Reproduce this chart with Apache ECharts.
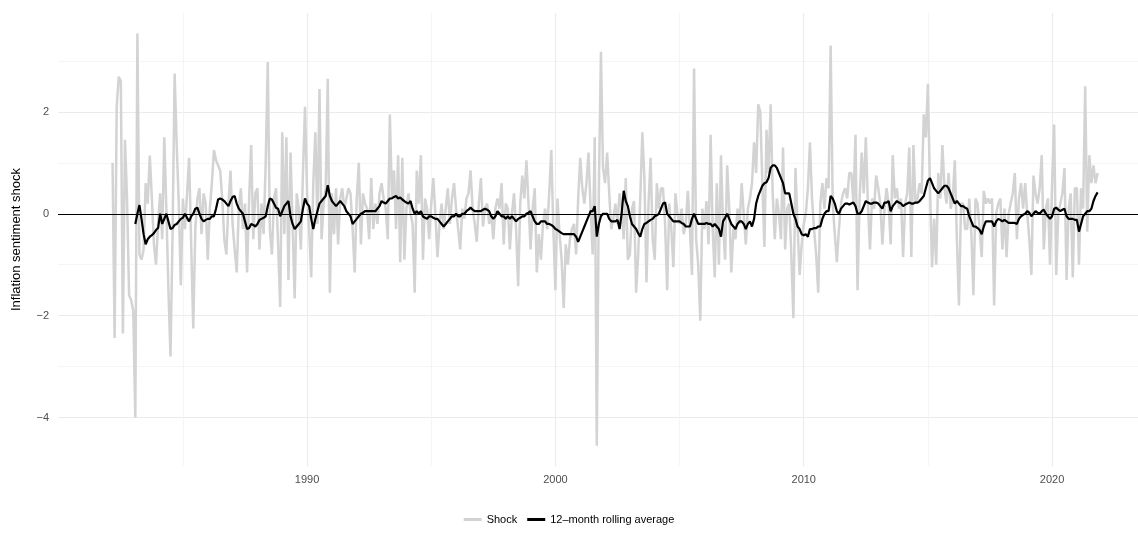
<!DOCTYPE html>
<html>
<head>
<meta charset="utf-8">
<script src="https://cdn.jsdelivr.net/npm/echarts@6/dist/echarts.min.js"></script>
<style>html,body{margin:0;padding:0;background:#fff}#chart{width:1138px;height:556px}</style>
</head>
<body>
<div id="chart"></div>
<script>
// monthly series, first month March 1982
var startYear = 1982 + 2 / 12
var majorYears = [1990, 2000, 2010, 2020]
var minorYears = [1985, 1995, 2005, 2015]
var majorY = [-4, -2, 0, 2]
var minorY = [-3, -1, 1, 3]

var shock = [
  1.0, -2.44, 2.1, 2.69, 2.6, -2.35, 1.45, 0.3, -1.6, -1.7, -1.9, -4.0, 3.54, -0.8, -0.9, -0.7, 0.6, 0.2, 1.14, 0.3,
  -0.6, -1.0, -0.2, 0.4, -0.5, 1.5, 0.1, -1.5, -2.8, -0.4, 2.75, 1.35, 0.2, -1.4, 0.3, -0.3, 0.4, 1.1, -0.6, -2.25,
  -0.3, 0.3, 0.5, -0.4, 0.4, 0.2, -0.9, 0.1, 0.6, 1.25, 1.05, 0.95, 0.85, 0.3, -0.5, -0.8, 0.2, 0.85, -0.2, -0.7,
  -1.15, 0.1, 0.5, -0.3, 0.2, -1.15, 0.3, 1.35, -0.5, 0.4, 0.5, -0.7, 0.2, -0.4, 1.0, 2.98, -0.3, -0.8, 0.3, 0.5,
  -0.6, -1.83, 1.6, -0.4, 1.5, -1.3, 1.2, -0.2, -1.66, 0.4, 0.1, -0.7, 0.8, 2.1, 0.4, -0.3, -1.25, 0.6, 1.6, -0.2,
  2.45, -0.5, 0.2, 0.5, 2.65, -1.55, 0.4, -0.4, 0.5, -0.6, 0.3, 0.5, 0.1, 0.3, 0.5, 0.4, -0.3, -1.15, 0.3, 1.0,
  -0.6, 0.4, 0.2, 0.1, -0.5, 0.7, -0.3, 0.2, -0.2, 0.4, 0.6, 0.3, 0.1, -0.5, 1.95, 0.3, 0.85, -0.3, 1.15, -0.95,
  1.1, -0.9, 0.1, 0.4, 0.0, -0.2, -1.55, 0.85, 0.2, 1.15, -0.9, 0.3, 0.1, -0.5, 0.2, 0.7, 0.0, -0.85, -0.2, 0.2,
  -0.3, 0.1, 0.5, -0.2, 0.3, 0.6, 0.1, -0.3, -0.7, 0.1, -0.1, 0.3, 0.4, 0.85, 0.1, -0.2, -0.55, 0.2, 0.7, -0.25,
  0.1, 0.2, -0.2, 0.0, -0.5, 0.1, 0.3, 0.1, 0.6, -0.6, 0.2, 0.1, -0.7, 0.0, 0.4, -0.3, -1.42, 0.2, 0.75, 0.3,
  1.05, 0.2, -0.7, 0.1, 0.5, -1.15, -0.4, -0.9, -0.2, 0.1, -0.3, 0.4, 1.25, -0.3, -1.5, 0.3, -0.4, -0.9, -1.85, -0.6,
  -1.0, -0.5, -0.3, -0.2, -0.8, 0.3, 1.1, 0.5, 0.2, 0.6, 1.2, 0.1, -0.8, 1.5, -4.55, 0.5, 3.18, 0.9, 0.6, 1.2,
  0.4, -0.3, -0.1, 0.2, -0.2, 0.4, 0.1, -0.5, 0.7, -0.9, -0.8, 0.1, 0.25, -1.55, -0.8, 0.3, 1.6, 0.7, -1.35, 0.2,
  1.1, -0.5, -0.9, 0.6, 0.1, 0.5, 0.5, -0.2, -1.5, 0.2, -0.3, -1.05, 0.4, 0.0, -0.2, 0.1, -0.4, -0.2, 0.45, -0.3,
  -1.2, 2.85, -0.5, -1.0, -2.1, 0.1, -0.3, 0.25, -0.6, 1.55, -0.3, -1.25, 0.6, -1.0, 1.15, -0.2, -0.9, 0.95, 0.1, -1.15,
  -0.3, -0.5, 0.1, -0.2, 0.6, 0.0, -0.6, 0.1, 0.3, 0.6, 1.4, 0.8, 2.15, 2.0, 0.6, -0.65, 1.65, 0.8, 2.15, 0.4,
  -0.5, 0.3, 0.0, -0.5, 1.3, -0.7, 0.1, 0.2, -0.8, -2.05, 0.9, -0.2, -1.2, -0.6, -0.2, 0.0, 0.5, 1.4, 0.3, -0.3,
  -0.8, -1.55, 0.2, 0.6, 0.1, 0.7, 0.5, 3.3, 0.2, -0.4, -0.95, -0.3, 0.2, 0.4, 0.5, 0.3, 0.8, 0.8, 0.2, 1.55,
  -1.5, 0.3, 1.2, 0.4, 1.5, 0.2, -0.7, 0.3, 0.1, 0.75, 0.5, 0.2, -0.6, 0.1, 0.5, 0.2, -0.6, 1.15, 0.3, 0.5,
  0.1, 0.3, -0.85, 0.2, 0.4, 1.3, -0.85, 1.35, 0.2, 0.3, 0.6, 0.4, 1.95, 1.5, 2.55, 0.5, -1.05, -0.1, -1.0, 0.8,
  0.3, 1.35, 0.5, 0.2, 0.8, 0.1, 0.3, 1.05, -0.5, -1.8, 0.2, 0.2, -0.3, -0.3, 0.3, -0.4, -1.6, 0.3, 0.2, -0.3,
  -0.85, 0.45, 0.2, 0.3, 0.2, 0.3, -1.8, 0.0, 0.2, 0.3, -0.7, 0.1, -0.85, 0.0, 0.2, 0.4, 0.8, -0.5, 0.3, 0.6,
  0.1, 0.6, 0.0, -0.5, -1.2, 0.75, 0.4, 0.2, 0.5, 1.15, -0.7, 0.1, 0.3, -1.0, 0.6, 1.75, -1.2, 0.0, 0.2, 0.4,
  0.9, -1.3, 0.1, 0.4, -1.25, 0.5, 0.5, -1.0, 0.5, 0.1, 2.5, -0.35, 1.15, 0.6, 0.95, 0.6, 0.8
]

var rolling = [
  null, null, null, null, null, null, null, null, null, null, null, -0.2, 0.0, 0.17, -0.1, -0.4, -0.6, -0.5, -0.45, -0.42,
  -0.38, -0.32, -0.28, 0.0, -0.2, -0.1, 0.0, -0.15, -0.3, -0.28, -0.22, -0.2, -0.15, -0.1, -0.08, 0.0, -0.08, -0.15, -0.05, 0.0,
  0.1, 0.12, 0.0, -0.1, -0.15, -0.12, -0.1, -0.1, -0.05, -0.05, 0.1, 0.28, 0.3, 0.28, 0.25, 0.2, 0.15, 0.25, 0.33, 0.35,
  0.2, 0.1, 0.05, 0.0, -0.15, -0.3, -0.28, -0.2, -0.22, -0.25, -0.2, -0.12, -0.1, -0.08, -0.05, 0.15, 0.3, 0.28, 0.2, 0.12,
  0.1, -0.05, 0.05, 0.15, 0.2, 0.25, -0.05, -0.2, -0.3, -0.25, -0.2, -0.15, 0.1, 0.3, 0.2, 0.15, -0.1, -0.3, -0.1, 0.05,
  0.2, 0.25, 0.3, 0.35, 0.56, 0.35, 0.25, 0.2, 0.15, 0.2, 0.25, 0.2, 0.15, 0.05, 0.0, -0.05, -0.2, -0.15, -0.1, -0.05,
  0.0, 0.02, 0.05, 0.05, 0.05, 0.05, 0.05, 0.05, 0.1, 0.15, 0.25, 0.22, 0.2, 0.25, 0.3, 0.3, 0.33, 0.35, 0.3, 0.32,
  0.28, 0.25, 0.22, 0.2, 0.25, 0.1, 0.0, 0.05, 0.0, 0.05, -0.05, -0.08, -0.1, -0.05, -0.05, -0.08, -0.1, -0.1, -0.15, -0.2,
  -0.25, -0.2, -0.15, -0.1, -0.05, -0.05, 0.0, -0.05, -0.05, 0.0, 0.0, 0.05, 0.08, 0.12, 0.08, 0.05, 0.05, 0.05, 0.05, 0.08,
  0.1, 0.08, 0.05, -0.05, -0.1, -0.05, 0.05, 0.0, -0.05, -0.05, -0.1, -0.05, -0.1, -0.05, -0.1, -0.15, -0.1, -0.08, -0.05, -0.05,
  0.0, 0.02, 0.05, -0.05, -0.15, -0.2, -0.2, -0.15, -0.15, -0.15, -0.2, -0.2, -0.22, -0.25, -0.3, -0.32, -0.35, -0.38, -0.4, -0.4,
  -0.4, -0.4, -0.4, -0.4, -0.45, -0.55, -0.45, -0.35, -0.25, -0.15, -0.05, 0.05, 0.05, 0.15, -0.45, -0.2, -0.05, 0.0, 0.0, 0.0,
  -0.1, -0.15, -0.15, -0.15, -0.12, -0.3, 0.0, 0.45, 0.25, 0.15, -0.05, -0.2, -0.25, -0.3, -0.38, -0.45, -0.3, -0.2, -0.18, -0.15,
  -0.12, -0.1, -0.05, -0.03, 0.0, 0.1, 0.2, 0.22, 0.0, -0.05, -0.1, -0.15, -0.15, -0.15, -0.15, -0.18, -0.2, -0.25, -0.25, -0.25,
  -0.1, 0.0, -0.1, -0.2, -0.2, -0.2, -0.2, -0.18, -0.2, -0.2, -0.25, -0.2, -0.25, -0.3, -0.45, -0.15, -0.08, 0.0, -0.1, -0.2,
  -0.25, -0.3, -0.2, -0.15, -0.15, -0.2, -0.3, -0.2, -0.15, -0.25, -0.1, 0.2, 0.35, 0.45, 0.55, 0.6, 0.62, 0.7, 0.9, 0.95,
  0.95, 0.9, 0.8, 0.7, 0.6, 0.4, 0.4, 0.4, 0.2, 0.0, -0.1, -0.25, -0.3, -0.4, -0.42, -0.4, -0.45, -0.3, -0.3, -0.28,
  -0.28, -0.25, -0.25, -0.1, 0.0, 0.05, 0.05, 0.35, 0.3, 0.2, 0.05, 0.0, 0.1, 0.15, 0.2, 0.2, 0.18, 0.2, 0.22, 0.15,
  0.0, 0.0, 0.05, 0.15, 0.25, 0.22, 0.2, 0.2, 0.22, 0.22, 0.2, 0.15, 0.1, 0.22, 0.22, 0.25, 0.05, 0.15, 0.2, 0.25,
  0.22, 0.2, 0.15, 0.18, 0.2, 0.22, 0.2, 0.2, 0.22, 0.22, 0.25, 0.3, 0.35, 0.5, 0.65, 0.7, 0.6, 0.5, 0.45, 0.4,
  0.45, 0.5, 0.55, 0.55, 0.5, 0.4, 0.3, 0.2, 0.25, 0.2, 0.15, 0.15, 0.12, 0.1, -0.05, -0.15, -0.25, -0.25, -0.28, -0.32,
  -0.4, -0.25, -0.15, -0.15, -0.15, -0.15, -0.25, -0.15, -0.1, -0.12, -0.15, -0.12, -0.15, -0.18, -0.18, -0.18, -0.18, -0.2, -0.1, -0.05,
  -0.02, 0.0, 0.05, 0.02, -0.05, 0.0, 0.05, 0.02, 0.0, 0.05, 0.08, 0.0, -0.05, -0.1, -0.05, 0.1, 0.12, 0.08, 0.05, 0.08,
  0.1, -0.05, -0.1, -0.1, -0.1, -0.12, -0.12, -0.35, -0.2, -0.05, 0.0, 0.05, 0.05, 0.1, 0.25, 0.35, 0.42
]

var shockData = shock.map(function (v, i) { return [startYear + i / 12, v] })
var rollingData = rolling.map(function (v, i) { return [startYear + i / 12, v] })

var chart = echarts.init(document.getElementById('chart'))
var labelStyle = { color: '#4d4d4d', fontSize: 11, fontFamily: 'Liberation Sans, Arial, sans-serif' }
var xMin = 1979.97
var xMax = 2023.46

chart.setOption({
  animation: false,
  grid: { left: 58, right: 0, top: 13, bottom: 90, containLabel: false },
  xAxis: [{
    type: 'value', min: xMin, max: xMax,
    axisLine: { show: false },
    axisTick: { show: false, customValues: majorYears },
    axisLabel: Object.assign({ customValues: majorYears, margin: 8, formatter: function (v) { return String(Math.round(v)) } }, labelStyle),
    splitLine: { show: true, lineStyle: { color: '#ebebeb', width: 1.1 } }
  }, {
    type: 'value', min: xMin, max: xMax, position: 'bottom',
    axisLine: { show: false },
    axisTick: { show: false, customValues: minorYears },
    axisLabel: { show: false, customValues: minorYears },
    splitLine: { show: true, lineStyle: { color: '#f2f2f2', width: 0.8 } }
  }],
  yAxis: [{
    type: 'value', min: -4.95, max: 3.94,
    name: 'Inflation sentiment shock', nameLocation: 'middle', nameGap: 35,
    nameTextStyle: { color: '#000', fontSize: 13, fontFamily: 'Liberation Sans, Arial, sans-serif' },
    axisLine: { show: false },
    axisTick: { show: false, customValues: majorY },
    axisLabel: Object.assign({ customValues: majorY, margin: 9, formatter: function (v) { return v < 0 ? '\u2212' + Math.abs(v) : String(v) } }, labelStyle),
    splitLine: { show: true, lineStyle: { color: '#ebebeb', width: 1.1 } }
  }, {
    type: 'value', min: -4.95, max: 3.94, position: 'left',
    axisLine: { show: false },
    axisTick: { show: false, customValues: minorY },
    axisLabel: { show: false, customValues: minorY },
    splitLine: { show: true, lineStyle: { color: '#f2f2f2', width: 0.8 } }
  }],
  legend: {
    bottom: 26, left: 'center', itemGap: 10, itemWidth: 18, itemHeight: 3,
    icon: 'rect',
    textStyle: { color: '#000', fontSize: 11, fontFamily: 'Liberation Sans, Arial, sans-serif' },
    data: ['Shock', '12\u2013month rolling average']
  },
  series: [{
    name: 'Shock', type: 'line', data: shockData, showSymbol: false,
    lineStyle: { color: '#d3d3d3', width: 2.5 }, itemStyle: { color: '#d3d3d3' },
    z: 2
  }, {
    name: '12\u2013month rolling average', type: 'line', data: rollingData, showSymbol: false,
    lineStyle: { color: '#000', width: 2.2 }, itemStyle: { color: '#000' },
    z: 4,
    markLine: {
      silent: true, symbol: 'none', label: { show: false },
      lineStyle: { color: '#000', width: 1.2, type: 'solid' },
      data: [{ yAxis: 0 }]
    }
  }]
})
</script>
</body>
</html>
